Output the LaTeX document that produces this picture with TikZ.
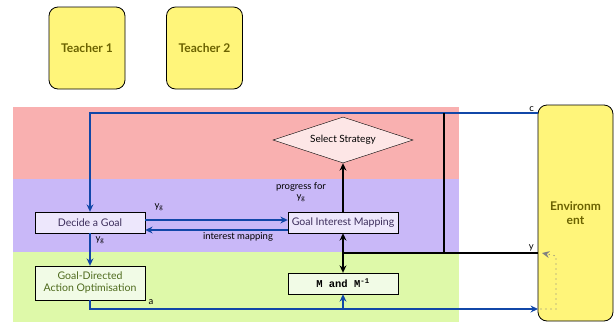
\documentclass[tikz,border=0pt]{standalone}
\usepackage{fontspec}
\setmainfont{Lato}
\setmonofont{Liberation Mono}
\usetikzlibrary{arrows.meta, positioning, shapes.geometric}

\definecolor{bandred}{HTML}{F9B0B0}
\definecolor{bandpurple}{HTML}{C9B8F8}
\definecolor{bandgreen}{HTML}{DEF9A9}
\definecolor{flowblue}{HTML}{1147A8}
\definecolor{lilac}{HTML}{EDE7FC}
\definecolor{paleleaf}{HTML}{F1FBE6}
\definecolor{palepink}{HTML}{FDE6E6}
\definecolor{sticky}{HTML}{FFF57A}
\definecolor{olive}{HTML}{6B6200}
\definecolor{inkpurple}{HTML}{3B2C5A}
\definecolor{inkgreen}{HTML}{4F6B1E}

\tikzset{
  goalbox/.style={draw, fill=lilac, text=inkpurple, minimum width=110, minimum height=21, inner sep=1pt, font=\fontsize{10.5}{12}\selectfont},
  actbox/.style={draw, fill=paleleaf, text=inkgreen, minimum width=110, minimum height=34, inner sep=1pt, align=center, font=\fontsize{10.5}{12}\selectfont},
  sticky/.style={draw, thick, fill=sticky, text=olive, rounded corners=9pt, font=\fontsize{12}{14}\selectfont\bfseries},
  flow/.style={line width=1.4pt, draw=flowblue, -{Stealth[length=2.6mm, width=2.4mm]}},
  feed/.style={line width=1.4pt, -{Stealth[length=2.6mm, width=2.4mm]}},
  lbl/.style={font=\fontsize{9.5}{10.5}\selectfont, inner sep=0pt}
}

\begin{document}
\begin{tikzpicture}[x=1pt, y=-1pt]
\useasboundingbox (0,0) rectangle (614,322);

% layers
\fill[bandred] (13,107) rectangle (459,179);
\fill[bandpurple] (13,179) rectangle (459,252);
\fill[bandgreen] (13,252) rectangle (459,322);

% teachers and environment
\node[sticky, minimum width=76, minimum height=82] (teacherA) at (87,48) {Teacher 1};
\node[sticky, minimum width=76, minimum height=82] (teacherB) at (204.5,48) {Teacher 2};
\node[sticky, minimum width=75, minimum height=216, align=center] (env) at (575.5,213) {Environm\\ent};

% boxes
\node[goalbox] (decide) at (90,222.5) {Decide a Goal};
\node[actbox] (gdao) at (90,283) {Goal-Directed\\Action Optimisation};
\node[goalbox] (gim) at (343,222.5) {Goal Interest Mapping};
\node[draw, fill=paleleaf, minimum width=110, minimum height=21, inner sep=1pt, font=\fontsize{10.5}{12}\selectfont\ttfamily\bfseries] (model) at (343,283.5) {M and M\textsuperscript{-1}};
\node[diamond, draw, fill=palepink, minimum width=140, minimum height=46, inner sep=0pt, aspect=3, font=\fontsize{10}{12}\selectfont] (strategy) at (343,140) {Select Strategy};

\coordinate (cin) at (538,113);
\coordinate (yin) at (538,253);
\coordinate (ysplit) at (444,253);
\coordinate (ymid) at (343,253);
\coordinate (aout) at (538,309);
\coordinate (amid) at (343,309);

% context line
\draw[flow] (cin) -| (decide.north);
\node[lbl, above left=1pt and 4pt] at (cin) {c};

% goal exchange
\draw[flow] ([yshift=2.5pt]decide.east) -- ([yshift=2.5pt]gim.west);
\draw[flow] ([yshift=-7.5pt]gim.west) -- ([yshift=-7.5pt]decide.east);
\node[lbl] at (159,207) {y\textsubscript{g}};
\node[lbl] at (238,237) {interest mapping};

\draw[flow] (decide) -- (gdao);
\node[lbl] at (100,240) {y\textsubscript{g}};

% action
\draw[flow] (gdao.south) |- (aout);
\draw[flow] (amid) -- (model.south);
\node[lbl] at (151,302) {a};

% observations
\draw[line width=1.4pt] (yin) -- (ymid);
\draw[line width=1.4pt] (ysplit) -- (cin -| ysplit);
\draw[feed] (ymid) -- (gim.south);
\draw[feed] (ymid) -- (model.north);
\draw[feed] (gim.north) -- (strategy.south);
\node[lbl, above left=2pt and 4pt] at (yin) {y};
\node[lbl, align=center] at (301,192) {progress for\\y\textsubscript{g}};

% environment loop
\draw[gray, line width=1.3pt, line cap=round, dash pattern=on 0pt off 5pt, arrows={-Stealth[length=2.6mm, width=2.4mm, line cap=butt]}] (541,309) -- (556,309) -- (556,256) -- (542,253);

\end{tikzpicture}
\end{document}
